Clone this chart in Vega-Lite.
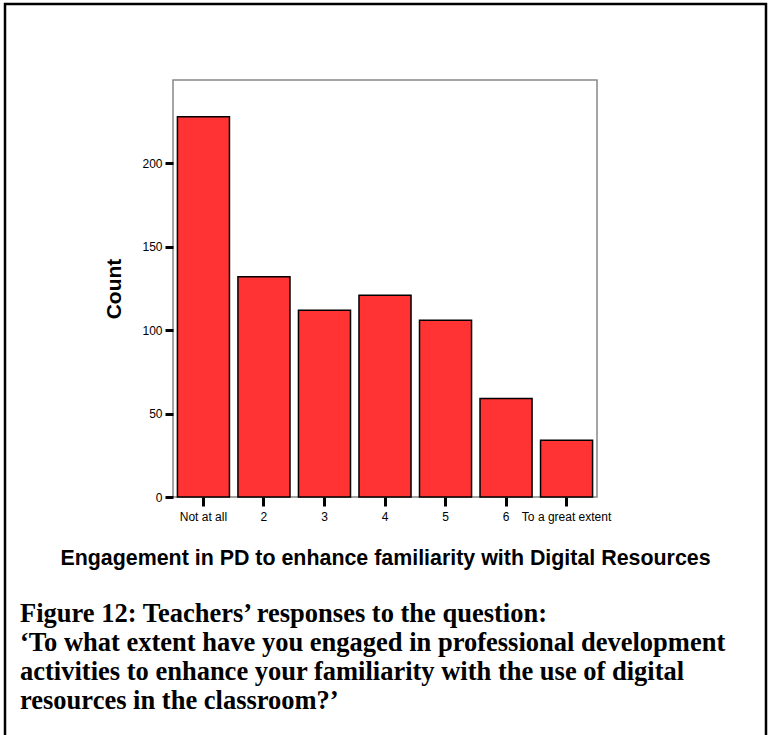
{
  "$schema": "https://vega.github.io/schema/vega-lite/v6.json",
  "autosize": "none",
  "width": 424,
  "height": 417,
  "padding": {"left": 173, "top": 80, "right": 176, "bottom": 238},
  "background": "white",
  "title": {
    "text": [
      "Figure 12: Teachers’ responses to the question:",
      "‘To what extent have you engaged in professional development",
      "activities to enhance your familiarity with the use of digital",
      "resources in the classroom?’"
    ],
    "orient": "bottom",
    "anchor": "start",
    "frame": "group",
    "baseline": "top",
    "dx": -153,
    "offset": -138,
    "font": "Liberation Serif",
    "fontSize": 26.5,
    "fontWeight": "bold",
    "lineHeight": 29,
    "color": "black"
  },
  "config": {
    "view": {"stroke": "#888888", "strokeWidth": 1.5},
    "axis": {
      "labelFont": "Liberation Sans",
      "titleFont": "Liberation Sans",
      "labelColor": "black",
      "titleColor": "black",
      "grid": false
    }
  },
  "layer": [
    {
      "data": {
        "values": [
          {"response": "Not at all", "count": 228},
          {"response": "2", "count": 132},
          {"response": "3", "count": 112},
          {"response": "4", "count": 121},
          {"response": "5", "count": 106},
          {"response": "6", "count": 59},
          {"response": "To a great extent", "count": 34}
        ]
      },
      "mark": {"type": "bar", "fill": "#FF3333", "stroke": "black", "strokeWidth": 1.5},
      "encoding": {
        "x": {
          "field": "response",
          "type": "nominal",
          "sort": null,
          "scale": {"paddingInner": 0.14, "paddingOuter": 0.073},
          "axis": {
            "title": "Engagement in PD to enhance familiarity with Digital Resources",
            "titleFontSize": 21.4,
            "titleFontWeight": "bold",
            "titlePadding": 25,
            "labelAngle": 0,
            "labelFontSize": 12,
            "labelPadding": 5,
            "tickSize": 9,
            "tickWidth": 3,
            "tickColor": "black",
            "domain": false
          }
        },
        "y": {
          "field": "count",
          "type": "quantitative",
          "scale": {"domain": [0, 250], "nice": false},
          "axis": {
            "title": "Count",
            "titleFontSize": 21,
            "titleFontWeight": "bold",
            "titlePadding": 17,
            "values": [0, 50, 100, 150, 200],
            "labelFontSize": 12,
            "labelPadding": 3,
            "tickSize": 8,
            "tickWidth": 3,
            "tickColor": "black",
            "domain": false
          }
        }
      }
    },
    {
      "data": {"values": [{}]},
      "mark": {
        "type": "rect",
        "fill": null,
        "stroke": "black",
        "strokeWidth": 2.5,
        "clip": false
      },
      "encoding": {
        "x": {"value": -168},
        "x2": {"value": 593},
        "y": {"value": -76},
        "y2": {"value": 658}
      }
    }
  ]
}
